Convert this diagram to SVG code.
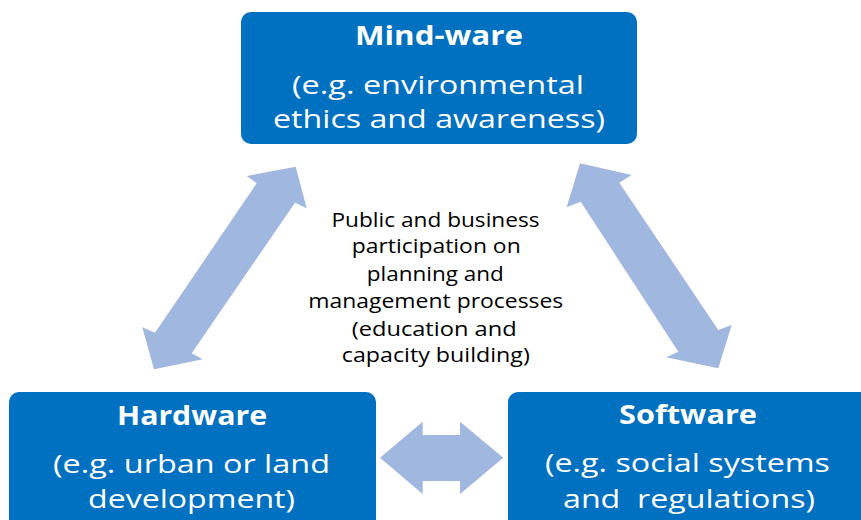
<svg xmlns="http://www.w3.org/2000/svg" width="861" height="520" viewBox="0 0 861 520">
<style>
.box{fill:#0070C0;}
.arr{fill:#A0B7DF;}
.t{font-family:"Open Sans","Noto Sans","Liberation Sans",sans-serif;fill:#ffffff;text-anchor:middle;}
.h{font-size:27px;font-weight:bold;}
.s{font-size:25px;}
.c{font-family:"Open Sans","Noto Sans","Liberation Sans",sans-serif;font-size:20px;fill:#000000;text-anchor:middle;}
</style>
<rect width="861" height="520" fill="#ffffff"/>
<g id="connectors">
<polygon class="arr" points="295.7,166.7 306.7,208.3 295,202.7 191.7,353.3 202.7,359.3 154,369.3 142.3,327.3 155,332.7 256.7,183.3 246.7,176"/>
<polygon class="arr" points="580,163.3 631.7,175 619.3,182.7 718.3,330 731.7,325 718.3,368.3 666,357.3 678.3,351.7 580.7,201.7 566.7,207.3"/>
<polygon class="arr" points="380,457.7 422.7,421.7 422.7,435 460,435 460,421.7 503.3,457.7 460,494 460,481 422.7,481 422.7,494"/>
</g>
<g id="mindware">
<rect class="box" x="241" y="12" width="396" height="132" rx="10"/>
<text class="t h" x="439" y="45" textLength="168" lengthAdjust="spacingAndGlyphs">Mind-ware</text>
<text class="t s" x="438" y="94" textLength="292" lengthAdjust="spacingAndGlyphs">(e.g. environmental</text>
<text class="t s" x="439" y="128" textLength="332" lengthAdjust="spacingAndGlyphs">ethics and awareness)</text>
</g>
<g id="hardware">
<rect class="box" x="9" y="392" width="367" height="140" rx="10"/>
<text class="t h" x="192" y="425" textLength="150" lengthAdjust="spacingAndGlyphs">Hardware</text>
<text class="t s" x="191.5" y="473" textLength="277" lengthAdjust="spacingAndGlyphs">(e.g. urban or land</text>
<text class="t s" x="191.5" y="508" textLength="207" lengthAdjust="spacingAndGlyphs">development)</text>
</g>
<g id="software">
<rect class="box" x="508" y="392" width="367" height="140" rx="10"/>
<text class="t h" x="688" y="424" textLength="138" lengthAdjust="spacingAndGlyphs">Software</text>
<text class="t s" x="687.5" y="472" textLength="285" lengthAdjust="spacingAndGlyphs">(e.g. social systems</text>
<text class="t s" x="689" y="508" textLength="252" lengthAdjust="spacingAndGlyphs" xml:space="preserve">and  regulations)</text>
</g>
<g id="center-label">
<text class="c" x="435.5" y="226.7" textLength="208" lengthAdjust="spacingAndGlyphs">Public and business</text>
<text class="c" x="436.2" y="253.3" textLength="169" lengthAdjust="spacingAndGlyphs">participation on</text>
<text class="c" x="435.3" y="281" textLength="137" lengthAdjust="spacingAndGlyphs">planning and</text>
<text class="c" x="435.8" y="308.3" textLength="255" lengthAdjust="spacingAndGlyphs">management processes</text>
<text class="c" x="434.2" y="336" textLength="165" lengthAdjust="spacingAndGlyphs">(education and</text>
<text class="c" x="435.8" y="361.7" textLength="188" lengthAdjust="spacingAndGlyphs">capacity building)</text>
</g>
</svg>
